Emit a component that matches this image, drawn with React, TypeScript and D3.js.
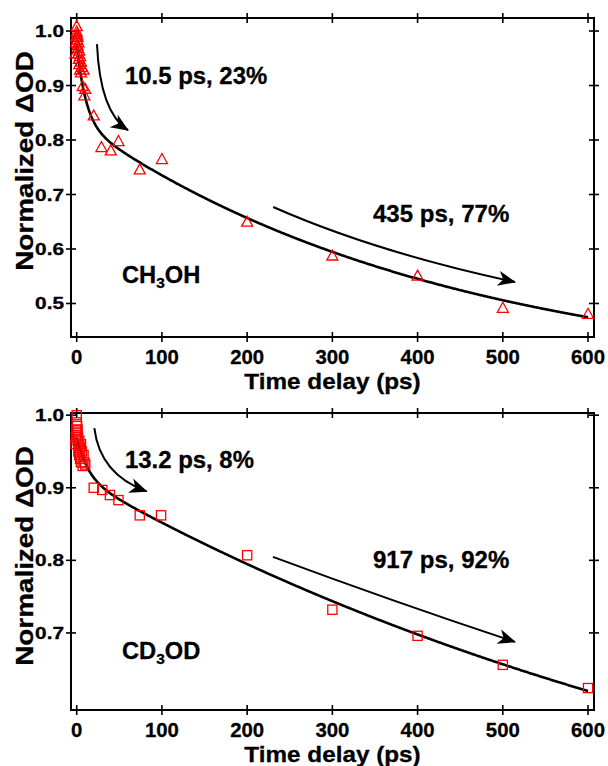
import React from "react";
import * as d3 from "d3";

// ---- CH3OH kinetics (top panel) ----
const ch3ohTime = [-1.5, -1, -0.5, 0, 0, 0.5, 0.5, 1, 1, 1.5, 2, 2, 2.5, 3, 3, 4, 4, 5, 5, 6, 7, 8, 9, 10, 20, 29, 40, 49, 74, 100, 200, 300, 400, 500, 600];
const ch3ohValue = [0.96, 0.98, 0.99, 1.01, 1.0, 0.995, 0.985, 0.99, 0.975, 0.97, 0.98, 0.96, 0.95, 0.965, 0.94, 0.955, 0.93, 0.945, 0.925, 0.935, 0.9, 0.93, 0.883, 0.895, 0.846, 0.788, 0.782, 0.799, 0.747, 0.766, 0.651, 0.589, 0.552, 0.493, 0.482];

// ---- CD3OD kinetics (bottom panel) ----
const cd3odTime = [-1.5, -1, -0.5, 0, 0, 0.5, 0.5, 1, 1, 1.5, 2, 2, 3, 3, 4, 4, 5, 5, 6, 7, 8, 9, 10, 20, 30, 39, 49, 74, 99, 200, 300, 400, 500, 600];
const cd3odValue = [0.96, 0.97, 0.98, 1.0, 0.99, 0.985, 0.975, 0.98, 0.965, 0.97, 0.96, 0.95, 0.965, 0.945, 0.955, 0.94, 0.96, 0.935, 0.95, 0.93, 0.945, 0.935, 0.932, 0.9, 0.897, 0.89, 0.883, 0.862, 0.862, 0.807, 0.732, 0.696, 0.656, 0.624];

// Biexponential fit parameters: lifetimes (ps) and fractional amplitudes
const ch3ohTau = [10.5, 435];
const ch3ohWeight = [0.23, 0.77];
const ch3ohScale = [0.623, 0.354]; // amplitude, offset
const cd3odTau = [13.2, 917];
const cd3odWeight = [0.08, 0.92];
const cd3odScale = [0.669, 0.3];

// Axis ticks
const xTicks = [0, 100, 200, 300, 400, 500, 600];
const ch3ohYTicks = [0.5, 0.6, 0.7, 0.8, 0.9, 1.0];
const cd3odYTicks = [0.7, 0.8, 0.9, 1.0];

// Annotation arrows in data coordinates [t, value] (start, control, end)
const ch3ohFastArrow = [[23.8, 0.976], [27.3, 0.851], [60.2, 0.818]];
const ch3ohSlowArrow = [[230.6, 0.677], [350, 0.5945], [514.3, 0.5394]];
const cd3odFastArrow = [[20.7, 0.982], [27.3, 0.918], [82.1, 0.895]];
const cd3odSlowArrow = [[230.3, 0.8048], [372.5, 0.7428], [514.3, 0.6876]];

const FONT = "'Liberation Sans', Arial, Helvetica, sans-serif";
const RED = "#ff0000";

function fitCurve(tau: number[], w: number[], s: number[]) {
  return (t: number) =>
    s[0] * (w[0] * Math.exp(-t / tau[0]) + w[1] * Math.exp(-t / tau[1])) + s[1];
}

function Txt(props: {
  x: number; y: number; size: number; sx?: number; anchor?: string; rotate?: number; children: React.ReactNode;
}) {
  const { x, y, size, sx = 1, anchor = "start", rotate = 0, children } = props;
  return (
    <text
      transform={`translate(${x},${y}) rotate(${rotate}) scale(${sx},1)`}
      fontFamily={FONT}
      fontWeight="bold"
      fontSize={size}
      textAnchor={anchor}
      fill="#000"
      stroke="#000"
      strokeWidth={0.3}
    >
      {children}
    </text>
  );
}

function arrowPath(pts: number[][], x: d3.ScaleLinear<number, number>, y: d3.ScaleLinear<number, number>) {
  const p = pts.map(([t, v]) => [x(t), y(v)]);
  return `M${p[0][0]},${p[0][1]} Q${p[1][0]},${p[1][1]} ${p[2][0]},${p[2][1]}`;
}

function Panel(props: {
  top: number; bottom: number; yDomain: [number, number]; yTicks: number[];
  time: number[]; value: number[]; marker: "triangle" | "square";
  fit: (t: number) => number; fastArrow: number[][]; slowArrow: number[][];
  fastLabel: string; slowLabel: string; fastLabelPos: [number, number]; slowLabelPos: [number, number];
  solvent: [string, string, string]; solventPos: [number, number]; titleCenter: number;
}) {
  const left = 71, right = 594;
  const x = d3.scaleLinear().domain([-6.69, 607]).range([left, right]);
  const y = d3.scaleLinear().domain(props.yDomain).range([props.bottom, props.top]);
  const fitPts = d3.range(0, 600.01, 1).map((t) => [x(t), y(props.fit(t))] as [number, number]);
  const line = d3.line()(fitPts) || "";
  const tk = 5;

  return (
    <g>
      {/* frame */}
      <rect x={left} y={props.top} width={right - left} height={props.bottom - props.top} fill="none" stroke="#000" strokeWidth={2} />
      {xTicks.map((t) => (
        <g key={"x" + t}>
          <line x1={x(t)} x2={x(t)} y1={props.bottom - tk} y2={props.bottom + tk} stroke="#000" strokeWidth={1.6} />
          <line x1={x(t)} x2={x(t)} y1={props.top - tk} y2={props.top + tk} stroke="#000" strokeWidth={1.6} />
          <Txt x={x(t)} y={props.bottom + 27} size={21} sx={0.97} anchor="middle">{t}</Txt>
        </g>
      ))}
      {props.yTicks.map((v) => (
        <g key={"y" + v}>
          <line x1={left - tk} x2={left + tk} y1={y(v)} y2={y(v)} stroke="#000" strokeWidth={1.6} />
          <line x1={right - tk} x2={right + tk} y1={y(v)} y2={y(v)} stroke="#000" strokeWidth={1.6} />
          <Txt x={left - 7} y={y(v) + 6} size={16} sx={1.3} anchor="end">{v.toFixed(1)}</Txt>
        </g>
      ))}
      <Txt x={332.5} y={props.bottom + 52} size={21.5} sx={1.13} anchor="middle">Time delay (ps)</Txt>
      <Txt x={33} y={props.titleCenter} size={24} sx={1.16} anchor="middle" rotate={-90}>Normalized ΔOD</Txt>

      {/* fit curve */}
      <path d={line} fill="none" stroke="#000" strokeWidth={2.6} />

      {/* data points */}
      {props.time.map((t, i) => {
        const cx = x(t), cy = y(props.value[i]);
        return props.marker === "triangle" ? (
          <path key={i} d={`M${cx},${cy - 5} L${cx + 5.5},${cy + 5} L${cx - 5.5},${cy + 5} Z`} fill="none" stroke={RED} strokeWidth={1.3} />
        ) : (
          <rect key={i} x={cx - 4.6} y={cy - 4.6} width={9.2} height={9.2} fill="none" stroke={RED} strokeWidth={1.3} />
        );
      })}

      {/* lifetime arrows */}
      <path d={arrowPath(props.fastArrow, x, y)} fill="none" stroke="#000" strokeWidth={2} markerEnd="url(#head)" />
      <path d={arrowPath(props.slowArrow, x, y)} fill="none" stroke="#000" strokeWidth={2} markerEnd="url(#head)" />
      <Txt x={props.fastLabelPos[0]} y={props.fastLabelPos[1]} size={23} sx={1.04}>{props.fastLabel}</Txt>
      <Txt x={props.slowLabelPos[0]} y={props.slowLabelPos[1]} size={23} sx={1.045}>{props.slowLabel}</Txt>

      <text
        transform={`translate(${props.solventPos[0]},${props.solventPos[1]}) scale(1.03,1)`}
        fontFamily={FONT} fontWeight="bold" fontSize={23} fill="#000" stroke="#000" strokeWidth={0.3}
      >
        {props.solvent[0]}
        <tspan fontSize={15} dy={5}>{props.solvent[1]}</tspan>
        <tspan dy={-5}>{props.solvent[2]}</tspan>
      </text>
    </g>
  );
}

export default function App() {
  return (
    <div style={{ position: "absolute", left: 0, top: 0 }}>
      <svg width={608} height={766} viewBox="0 0 608 766" style={{ display: "block", background: "#fff" }}>
        <defs>
          <marker id="head" viewBox="-18 -8 20 16" refX={0} refY={0} markerWidth={20} markerHeight={16} markerUnits="userSpaceOnUse" orient="auto">
            <path d="M1,0 L-17,-7.5 L-12,0 L-17,7.5 Z" fill="#000" />
          </marker>
        </defs>
        <Panel
          top={18} bottom={337} yDomain={[0.4385, 1.0239]} yTicks={ch3ohYTicks}
          time={ch3ohTime} value={ch3ohValue} marker="triangle"
          fit={fitCurve(ch3ohTau, ch3ohWeight, ch3ohScale)}
          fastArrow={ch3ohFastArrow} slowArrow={ch3ohSlowArrow}
          fastLabel={`${ch3ohTau[0]} ps, ${Math.round(ch3ohWeight[0] * 100)}%`}
          slowLabel={`${ch3ohTau[1]} ps, ${Math.round(ch3ohWeight[1] * 100)}%`}
          fastLabelPos={[125, 84]} slowLabelPos={[373, 221.5]}
          solvent={["CH", "3", "OH"]} solventPos={[122, 283]} titleCenter={161}
        />
        <Panel
          top={413} bottom={710} yDomain={[0.5938, 1.003]} yTicks={cd3odYTicks}
          time={cd3odTime} value={cd3odValue} marker="square"
          fit={fitCurve(cd3odTau, cd3odWeight, cd3odScale)}
          fastArrow={cd3odFastArrow} slowArrow={cd3odSlowArrow}
          fastLabel={`${cd3odTau[0]} ps, ${Math.round(cd3odWeight[0] * 100)}%`}
          slowLabel={`${cd3odTau[1]} ps, ${Math.round(cd3odWeight[1] * 100)}%`}
          fastLabelPos={[125, 468]} slowLabelPos={[373, 568]}
          solvent={["CD", "3", "OD"]} solventPos={[122, 659]} titleCenter={556}
        />
      </svg>
    </div>
  );
}
